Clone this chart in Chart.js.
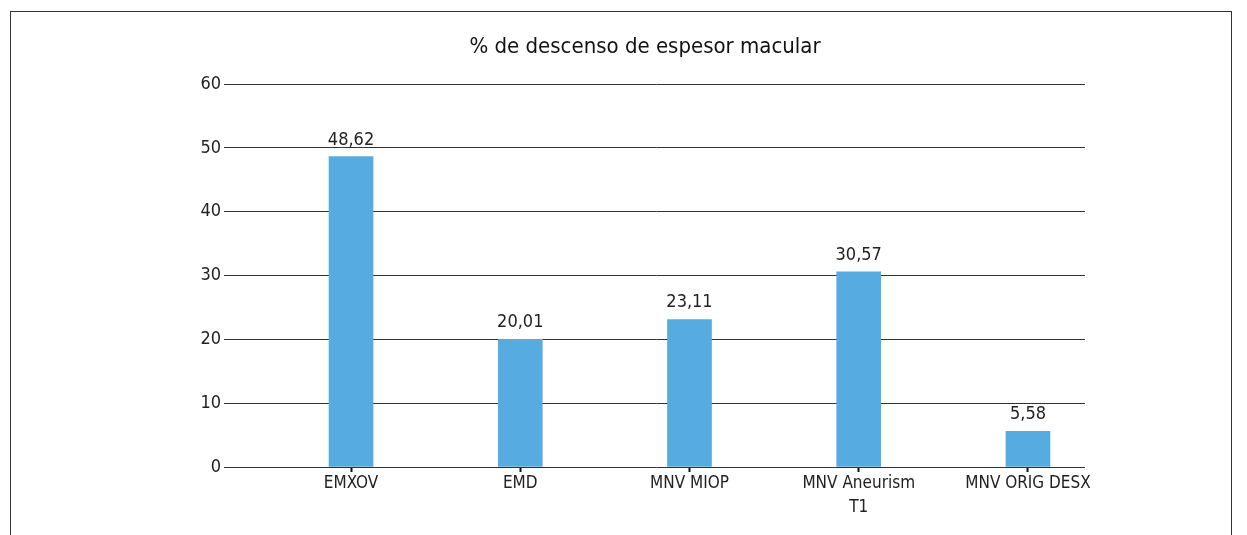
<!DOCTYPE html>
<html>
<head>
<meta charset="utf-8">
<script src="https://cdn.jsdelivr.net/npm/chart.js@4"></script>
<style>
    html, body { margin: 0; padding: 0; background: #fff; overflow: hidden; }
    #wrap { position: relative; width: 1247px; height: 535px; }
    #frame { position: absolute; left: 10px; top: 11px; width: 1222px; height: 600px; border: 1px solid #333; box-sizing: border-box; }
    canvas { position: absolute; left: 0; top: 0; }
</style>
</head>
<body>
<div id="wrap">
    <div id="frame"></div>
    <canvas id="chart" width="1247" height="535"></canvas>
</div>
<script>
const titleText = '% de descenso de espesor macular';
const categories = ['EMXOV', 'EMD', 'MNV MIOP', ['MNV Aneurism', 'T1'], 'MNV ORIG DESX'];
const values = [48.62, 20.01, 23.11, 30.57, 5.58];
const yTicks = [0, 10, 20, 30, 40, 50, 60];

const FONT = '"Liberation Sans Narrow", "DejaVu Sans Condensed", sans-serif';

// value labels above each bar + title
const labelPlugin = {
    id: 'valueLabels',
    afterDatasetsDraw(chart) {
        const ctx = chart.ctx;
        ctx.save();
        ctx.fillStyle = '#222';
        ctx.font = '18px ' + FONT;
        ctx.textAlign = 'center';
        ctx.textBaseline = 'alphabetic';
        chart.getDatasetMeta(0).data.forEach((bar, i) => {
            ctx.fillText(values[i].toFixed(2).replace('.', ','), bar.x, bar.y - 12);
        });
        ctx.font = '22px ' + FONT;
        ctx.fillStyle = '#111';
        ctx.fillText(titleText, 645, 53);
        ctx.restore();
    }
};

const ctx = document.getElementById('chart').getContext('2d');
new Chart(ctx, {
    type: 'bar',
    data: {
        datasets: [{
            data: values.map((v, i) => ({ x: i, y: v })),
            backgroundColor: '#56ACE1',
            barThickness: 44,
            borderWidth: 0
        }]
    },
    options: {
        responsive: false,
        animation: false,
        layout: { padding: { left: 168, right: 162, top: 84, bottom: 8 } },
        plugins: { legend: { display: false }, tooltip: { enabled: false } },
        scales: {
            x: {
                type: 'linear',
                min: -0.727,
                max: 4.337,
                offset: false,
                afterFit: s => { s.height = 60; },
                afterBuildTicks: s => { s.ticks = categories.map((_, i) => ({ value: i })); },
                border: { display: false },
                grid: { offset: false, drawOnChartArea: false, tickLength: 5, color: '#111', tickWidth: 2 },
                ticks: {
                    includeBounds: false,
                    autoSkip: false,
                    maxRotation: 0,
                    padding: 0,
                    color: '#222',
                    font: { family: FONT, size: 17, lineHeight: 1.4 },
                    callback: v => categories[v]
                }
            },
            y: {
                min: 0,
                max: 60,
                afterFit: s => { s.width = 60; },
                afterBuildTicks: s => { s.ticks = yTicks.map(v => ({ value: v })); },
                border: { display: false },
                grid: { color: '#333', lineWidth: 1, tickLength: 4 },
                ticks: {
                    padding: 3,
                    color: '#222',
                    font: { family: FONT, size: 18 }
                }
            }
        }
    },
    plugins: [labelPlugin]
});
</script>
</body>
</html>
